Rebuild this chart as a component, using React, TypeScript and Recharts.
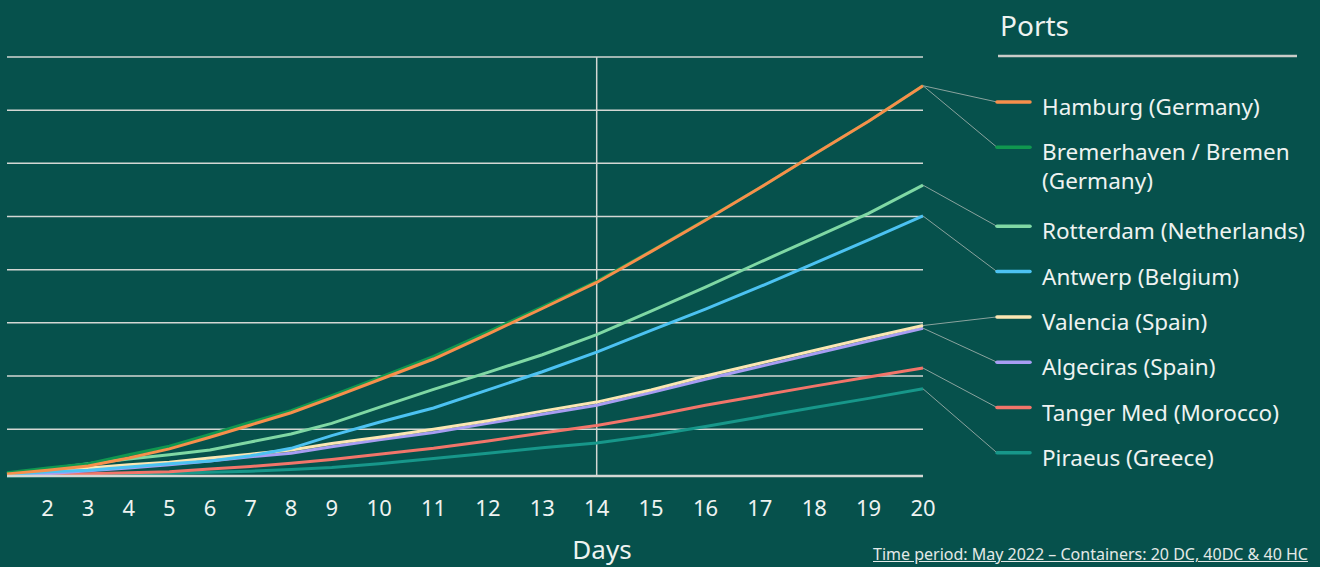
import React from 'react';
import { LineChart, Line, XAxis, YAxis, CartesianGrid, ReferenceLine } from 'recharts';

const DAYS = [1, 2, 3, 4, 5, 6, 7, 8, 9, 10, 11, 12, 13, 14, 15, 16, 17, 18, 19, 20];
const DAY_TICKS = [2, 3, 4, 5, 6, 7, 8, 9, 10, 11, 12, 13, 14, 15, 16, 17, 18, 19, 20];
const VALUE_TICKS = [100, 200, 300, 400, 500, 600, 700, 800];

// values (no y labels in the original, arbitrary units)
const hamburg = [16, 23, 31, 46, 63, 85, 108, 131, 159, 193, 232, 279, 327, 376, 434, 493, 554, 617, 679, 746];
const bremerhaven = [18, 27, 35, 52, 68, 90, 113, 135, 163, 197, 237, 283, 330, 378, 435, 494, 554, 617, 679, 746];
const rotterdam = [16, 25, 35, 44, 52, 61, 76, 91, 111, 141, 175, 207, 240, 278, 322, 367, 414, 460, 506, 559];
const antwerp = [14, 20, 23, 29, 35, 40, 50, 64, 88, 113, 140, 174, 208, 245, 286, 326, 368, 412, 456, 501];
const valencia = [16, 21, 27, 33, 38, 46, 53, 61, 73, 85, 100, 116, 134, 151, 174, 200, 224, 248, 272, 295];
const algeciras = [14, 16, 22, 27, 33, 40, 48, 55, 67, 80, 94, 111, 128, 145, 169, 194, 218, 242, 266, 290];
const tangerMed = [14, 15, 16, 18, 20, 25, 30, 36, 43, 53, 64, 78, 93, 107, 125, 145, 163, 181, 198, 215];
const piraeus = [12, 13, 14, 16, 17, 19, 21, 24, 28, 35, 45, 55, 65, 74, 88, 105, 123, 141, 158, 176];

const PORTS = [
  { key: 'hamburg', label: ['Hamburg (Germany)'], color: '#f78f4b', values: hamburg },
  { key: 'bremerhaven', label: ['Bremerhaven / Bremen', '(Germany)'], color: '#10974f', values: bremerhaven },
  { key: 'rotterdam', label: ['Rotterdam (Netherlands)'], color: '#7fd8a4', values: rotterdam },
  { key: 'antwerp', label: ['Antwerp (Belgium)'], color: '#4cc2f2', values: antwerp },
  { key: 'valencia', label: ['Valencia (Spain)'], color: '#fbe7b3', values: valencia },
  { key: 'algeciras', label: ['Algeciras (Spain)'], color: '#a79df3', values: algeciras },
  { key: 'tangerMed', label: ['Tanger Med (Morocco)'], color: '#f2756a', values: tangerMed },
  { key: 'piraeus', label: ['Piraeus (Greece)'], color: '#17978a', values: piraeus },
];

const data = DAYS.map((day, i) => {
  const row: any = { day };
  PORTS.forEach((p) => (row[p.key] = p.values[i]));
  return row;
});

const BG = '#06514c';
const TEXT = '#eef3f1';
const FONT = '"Noto Sans", sans-serif';

// the day labels in the original are spaced by their text width (two digits take more room)
const labelWeight = (d: number) => (String(d).length > 1 ? 1.34 : 1);
const dayPos = (d: number) => {
  const lo = Math.floor(d);
  let p = 0;
  for (let k = 1; k < lo; k++) p += (labelWeight(k) + labelWeight(k + 1)) / 2;
  const frac = d - lo;
  if (frac > 0) p += (frac * (labelWeight(lo) + labelWeight(lo + 1))) / 2;
  return p;
};

function labelScale(): any {
  let dom = [1, 20];
  let rng = [0, 1];
  const s: any = (v: number) => {
    const a = dayPos(dom[0]);
    const b = dayPos(dom[1]);
    return rng[0] + ((dayPos(Number(v)) - a) / (b - a)) * (rng[1] - rng[0]);
  };
  s.domain = (d?: any) => {
    if (d === undefined) return dom.slice();
    dom = Array.from(d, Number);
    return s;
  };
  s.range = (r?: any) => {
    if (r === undefined) return rng.slice();
    rng = Array.from(r, Number);
    return s;
  };
  s.copy = () => labelScale().domain(dom).range(rng);
  s.ticks = () => DAY_TICKS.slice();
  return s;
}

// legend layout
const SWATCH_X0 = 997;
const SWATCH_X1 = 1030;
const legendY = (i: number) => 102 + 45.3 * i + (i >= 2 ? 33.7 : 0);

const leaderDot = (row: number) => (p: any) => {
  if (p.index !== DAYS.length - 1) return <g key={`d-${row}-${p.index}`} />;
  return (
    <line
      key={`leader-${row}`}
      x1={p.cx}
      y1={p.cy}
      x2={SWATCH_X0}
      y2={legendY(row)}
      stroke="#8aa39e"
      strokeWidth={1}
    />
  );
};

export default function App() {
  const drawOrder = PORTS.map((p, i) => ({ ...p, row: i })).reverse();
  return (
    <div style={{ position: 'absolute', left: 0, top: 0, width: 1320, height: 567, background: BG, fontFamily: FONT, overflow: 'hidden' }}>
      <LineChart width={1320} height={567} data={data} margin={{ top: 57, right: 397, bottom: 51, left: 7 }}>
        <CartesianGrid vertical={false} stroke="#d3d7d3" strokeWidth={1.5} />
        <XAxis
          dataKey="day"
          type="number"
          domain={[1, 20]}
          scale={labelScale()}
          ticks={DAY_TICKS}
          height={40}
          tickLine={false}
          tickMargin={18}
          axisLine={{ stroke: '#d3d7d3', strokeWidth: 2.5 }}
          tick={{ fill: TEXT, fontSize: 22, fontFamily: FONT }}
        />
        <YAxis hide type="number" domain={[12, 800]} ticks={VALUE_TICKS} />
        <ReferenceLine x={14} stroke="#d3d7d3" strokeWidth={1.5} />
        {drawOrder.map((p) => (
          <Line
            key={p.key}
            type="linear"
            dataKey={p.key}
            stroke={p.color}
            strokeWidth={3}
            dot={leaderDot(p.row)}
            activeDot={false}
            isAnimationActive={false}
          />
        ))}
      </LineChart>

      <svg width={1320} height={567} style={{ position: 'absolute', left: 0, top: 0, pointerEvents: 'none' }}>
        <text x={1000} y={36} fill={TEXT} fontSize={28} fontFamily={FONT}>Ports</text>
        <line x1={998} x2={1297} y1={56} y2={56} stroke="#c9ccc8" strokeWidth={2.5} />
        {PORTS.map((p, i) => {
          const y = legendY(i);
          return (
            <g key={p.key}>
              <line x1={SWATCH_X0} x2={SWATCH_X1} y1={y} y2={y} stroke={p.color} strokeWidth={3.5} strokeLinecap="round" />
              {p.label.map((t, j) => (
                <text key={j} x={1042} y={y + 13 + j * 28.5} fill={TEXT} fontSize={22.5} fontFamily={FONT}>
                  {t}
                </text>
              ))}
            </g>
          );
        })}
        <text x={602} y={559} textAnchor="middle" fill={TEXT} fontSize={26} fontFamily={FONT}>Days</text>
      </svg>

      <div
        style={{
          position: 'absolute',
          left: 873,
          top: 545,
          fontSize: 16,
          lineHeight: '19px',
          color: '#e3e9e7',
          textDecoration: 'underline',
          whiteSpace: 'nowrap',
        }}
      >
        Time period: May 2022 – Containers: 20 DC, 40DC &amp; 40 HC
      </div>
    </div>
  );
}
